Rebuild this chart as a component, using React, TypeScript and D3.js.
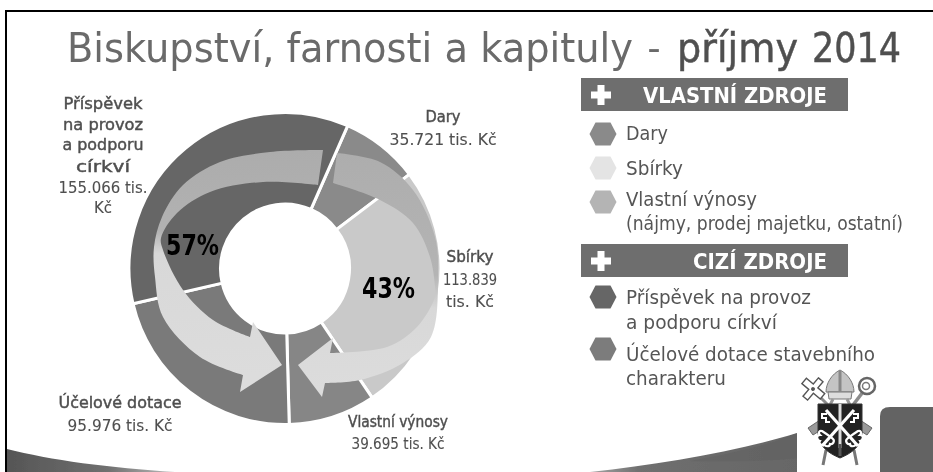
import React from "react";
import * as d3 from "d3";

const sliceNames = ["Dary", "Sbírky", "Vlastní výnosy", "Účelové dotace", "Příspěvek"];
const sliceValues = [35.721, 113.839, 39.695, 95.976, 155.066];
const sliceColors = ["#8a8a8a", "#c9c9c9", "#868686", "#7a7a7a", "#666666"];

type Pt = [number, number];
const leftArrowOuter: Pt[] = [[323, 150], [270, 152], [220, 162], [183, 185], [162, 217], [154, 247], [155, 277], [163, 317], [200, 357], [243, 375]];
const leftArrowHead: Pt[] = [[240, 392], [282, 365], [253, 322], [250, 337]];
const leftArrowInner: Pt[] = [[250, 337], [213, 320], [183, 290], [163, 250], [161, 238], [177, 213], [210, 192], [263, 182], [318, 185]];
const rightArrowOuter: Pt[] = [[337, 153], [380, 162], [413, 190], [435, 237], [438, 277], [431, 337], [403, 363], [360, 380], [325, 383]];
const rightArrowHead: Pt[] = [[322, 397], [298, 365], [333, 338], [330, 353]];
const rightArrowInner: Pt[] = [[330, 353], [387, 347], [417, 327], [435, 297], [435, 287], [430, 257], [413, 223], [380, 200], [333, 183]];

const titleParts = [
  { t: "Biskupství, farnosti a kapituly", x: 67, w: 566, c: "#6a6a6a", s: 0 },
  { t: "–", x: 648, w: 12, c: "#6a6a6a", s: 0 },
  { t: "příjmy", x: 677, w: 121, c: "#505050", s: 0.5 },
  { t: "2014", x: 812, w: 89, c: "#505050", s: 0.5 },
];

const legendTop = [
  { color: "#8a8a8a", lines: ["Dary"], w: [42], y: 134, base: [140] },
  { color: "#e4e4e4", lines: ["Sbírky"], w: [57], y: 168, base: [175] },
  { color: "#b4b4b4", lines: ["Vlastní výnosy", "(nájmy, prodej majetku, ostatní)"], w: [131, 277], y: 202, base: [206, 230] },
];
const legendBottom = [
  { color: "#666666", lines: ["Příspěvek na provoz", "a podporu církví"], w: [185, 151], y: 297, base: [304, 329] },
  { color: "#7c7c7c", lines: ["Účelové dotace stavebního", "charakteru"], w: [249, 100], y: 349, base: [361, 385] },
];

const labels = [
  { x: 103, lines: ["Příspěvek", "na provoz", "a podporu", "církví", "155.066 tis.", "Kč"], w: [79, 80, 81, 54, 89, 18], y: [109, 130, 150, 172, 193, 213], bold: [0, 1, 2, 3] },
  { x: 443, lines: ["Dary", "35.721 tis. Kč"], w: [35, 107], y: [122, 145], bold: [0] },
  { x: 470, lines: ["Sbírky", "113.839", "tis. Kč"], w: [47, 54, 48], y: [262, 285, 307], bold: [0] },
  { x: 398, lines: ["Vlastní výnosy", "39.695 tis. Kč"], w: [100, 93], y: [427, 449], bold: [0] },
  { x: 120, lines: ["Účelové dotace", "95.976 tis. Kč"], w: [123, 105], y: [408, 431], bold: [0] },
];

const FONT = "'DejaVu Sans', sans-serif";
const cx = 285, cy = 268.5, R = 156, r = 64.5;

function arrowPath(outer: Pt[], head: Pt[], inner: Pt[]) {
  const curve = d3.line<Pt>().x(d => d[0]).y(d => d[1]).curve(d3.curveCatmullRom.alpha(0.5));
  const a = curve(outer)!;
  const h = head.map(p => `L${p[0]},${p[1]}`).join("");
  const b = curve(inner)!.replace(/^M/, "L");
  return `${a}${h}${b}Z`;
}
const hex = (x: number, y: number) => {
  const w = 13.5, h = 11.5, k = 6;
  return `M${x - w},${y}L${x - w + k},${y - h}L${x + w - k},${y - h}L${x + w},${y}L${x + w - k},${y + h}L${x - w + k},${y + h}Z`;
};

function Plus({ x, y }: { x: number; y: number }) {
  return <path d={`M${x - 10},${y}H${x + 10}M${x},${y - 10}V${y + 10}`} stroke="#fff" strokeWidth={7} strokeLinejoin="round" />;
}

function Key({ flip }: { flip: boolean }) {
  return (
    <g transform={flip ? "translate(1680,0) scale(-1,1)" : undefined}>
      <path d="M826,410L858,446" stroke="#fff" strokeWidth={3.2} />
      <path d="M827,414h-5v4h4v4h4M824,410" stroke="#fff" strokeWidth={2} fill="none" />
      <path d="M858,431c3,-1 4,2 2,4c4,0 4,5 0,6c2,3 -2,5 -4,3c-1,3 -6,3 -6,0c-3,1 -5,-3 -3,-5c3,-3 8,-6 11,-8z" fill="none" stroke="#fff" strokeWidth={2.2} />
    </g>
  );
}

function Emblem() {
  return (
    <g>
      {/* cross, crozier and sword behind the shield */}
      <path d="M828,405L807,384" stroke="#8c8c8c" strokeWidth={3} />
      <g transform="translate(813,389) rotate(40)">
        <path d="M-3,-12H3V-4H12V3H3V12H-3V3H-12V-4H-3Z" fill="#fff" stroke="#555" strokeWidth={1.4} />
        <circle r={2} fill="#555" />
      </g>
      <path d="M853,405L866,388" stroke="#8c8c8c" strokeWidth={3.5} />
      <circle cx={867} cy={386} r={8} fill="#fff" stroke="#666" strokeWidth={2.5} />
      <circle cx={866} cy={386} r={3.5} fill="none" stroke="#777" strokeWidth={1.5} />
      <path d="M820,420L808,428L813,435L824,428Z" fill="#999" stroke="#666" />
      <path d="M860,420L872,428L867,435L856,428Z" fill="#999" stroke="#666" />
      <path d="M826,450L823,465M854,450L857,465" stroke="#777" strokeWidth={3} />
      {/* mitre */}
      <path d="M826,392C826,383 832,374 840,370C848,374 854,383 854,392Z" fill="#c4c4c4" stroke="#777" strokeWidth={1} />
      <path d="M828,392L852,392L851,399L829,399Z" fill="#ddd" stroke="#777" strokeWidth={1} />
      <path d="M840,371V392" stroke="#888" strokeWidth={3} />
      <path d="M833,399L830,405M847,399L850,405" stroke="#999" strokeWidth={3} />
      {/* shield */}
      <path d="M818,404H862V432C862,446 852,453 840,458C828,453 818,446 818,432Z" fill="#222" stroke="#333" />
      <path d="M840,404V448" stroke="#ddd" strokeWidth={3} />
      <Key flip={false} />
      <Key flip={true} />
      <path d="M840,444V456" stroke="#555" strokeWidth={3} />
    </g>
  );
}

export default function App() {
  const pie = d3.pie<number>().sort(null).startAngle((23.7 * Math.PI) / 180).endAngle((383.7 * Math.PI) / 180);
  const arc = d3.arc<d3.PieArcDatum<number>>().innerRadius(r).outerRadius(R);
  const arcs = pie(sliceValues);
  return (
    <svg width={933} height={472} viewBox="0 0 933 472" style={{ position: "absolute", left: 0, top: 0, background: "#fff" }} fontFamily={FONT}>
      <defs>
        <filter id="soft" x="-2%" y="-2%" width="104%" height="104%">
          <feGaussianBlur stdDeviation={0.45} />
        </filter>
        <linearGradient id="gL" gradientUnits="userSpaceOnUse" x1={0} x2={0} y1={150} y2={375}>
          <stop offset={0} stopColor="#acacac" />
          <stop offset={0.36} stopColor="#b2b2b2" />
          <stop offset={0.46} stopColor="#d8d8d8" />
          <stop offset={1} stopColor="#dcdcdc" />
        </linearGradient>
        <linearGradient id="gR" gradientUnits="userSpaceOnUse" x1={0} x2={0} y1={150} y2={390}>
          <stop offset={0} stopColor="#adadad" />
          <stop offset={0.52} stopColor="#b4b4b4" />
          <stop offset={0.66} stopColor="#d8d8d8" />
          <stop offset={1} stopColor="#dcdcdc" />
        </linearGradient>
        <linearGradient id="wL" gradientUnits="userSpaceOnUse" x1={6} x2={175} y1={0} y2={0}>
          <stop offset={0} stopColor="#555" />
          <stop offset={0.6} stopColor="#6f6f6f" />
          <stop offset={1} stopColor="#bbb" />
        </linearGradient>
        <linearGradient id="wR" gradientUnits="userSpaceOnUse" x1={585} x2={800} y1={0} y2={0}>
          <stop offset={0} stopColor="#aaa" />
          <stop offset={0.25} stopColor="#6f6f6f" />
          <stop offset={1} stopColor="#666" />
        </linearGradient>
      </defs>
      <g filter="url(#soft)">
        {/* frame */}
        <path d="M6,472V11H933" fill="none" stroke="#000" strokeWidth={2} />
        {/* bottom waves */}
        <path d="M7,449C50,460 110,468 175,472H7Z" fill="url(#wL)" />
        <path d="M590,472C660,464 735,452 797,433V472Z" fill="url(#wR)" />
        <path d="M690,461C725,454 765,447 797,433V458C760,462 725,462 690,461Z" fill="#5f5f5f" opacity={0.4} />
        <path d="M880,472V416Q880,407 890,407H933V472Z" fill="#646464" />

        {/* donut */}
        <g transform={`translate(${cx},${cy})`}>
          {arcs.map((a, i) => (
            <path key={sliceNames[i]} d={arc(a)!} fill={sliceColors[i]} stroke="#fff" strokeWidth={3} />
          ))}
        </g>
        <path d={arrowPath(rightArrowOuter, rightArrowHead, rightArrowInner)} fill="url(#gR)" />
        <path d={arrowPath(leftArrowOuter, leftArrowHead, leftArrowInner)} fill="url(#gL)" />

        {/* title */}
        {titleParts.map(p => (
          <text key={p.t} x={p.x} y={62} fontSize={41} fill={p.c} stroke={p.c} strokeWidth={p.s} textLength={p.w} lengthAdjust="spacingAndGlyphs">{p.t}</text>
        ))}

        {/* slice labels */}
        {labels.map(l => l.lines.map((t, j) => (
          <text key={t} x={l.x} y={l.y[j]} textAnchor="middle" fontSize={16} fill="#4f4f4f" stroke="#4f4f4f"
            strokeWidth={l.bold.includes(j) ? 0.45 : 0.1} textLength={l.w[j]} lengthAdjust="spacingAndGlyphs">{t}</text>
        )))}

        {/* shares */}
        <text x={166} y={255} fontSize={28} fontWeight={700} fill="#000" textLength={53} lengthAdjust="spacingAndGlyphs">57%</text>
        <text x={362} y={298} fontSize={28} fontWeight={700} fill="#000" textLength={53} lengthAdjust="spacingAndGlyphs">43%</text>

        {/* banners */}
        <rect x={581} y={78} width={267} height={33} fill="#6e6e6e" />
        <Plus x={601} y={95} />
        <text x={643} y={103} fontSize={22} fontWeight={700} fill="#fff" textLength={184} lengthAdjust="spacingAndGlyphs">VLASTNÍ ZDROJE</text>
        <rect x={581} y={244} width={267} height={33} fill="#6e6e6e" />
        <Plus x={601} y={261} />
        <text x={693} y={269} fontSize={22} fontWeight={700} fill="#fff" textLength={134} lengthAdjust="spacingAndGlyphs">CIZÍ ZDROJE</text>

        {/* legend */}
        {[...legendTop, ...legendBottom].map(e => (
          <g key={e.lines[0]}>
            <path d={hex(603, e.y)} fill={e.color} />
            {e.lines.map((t, j) => (
              <text key={t} x={626} y={e.base[j]} fontSize={20} fill="#555" textLength={e.w[j]} lengthAdjust="spacingAndGlyphs">{t}</text>
            ))}
          </g>
        ))}

        {/* badge and emblem */}
        <path d="M797,433V455Q797,472 812,480H865Q880,472 880,455V407H870Z" fill="#fff" />
        <Emblem />
      </g>
    </svg>
  );
}
